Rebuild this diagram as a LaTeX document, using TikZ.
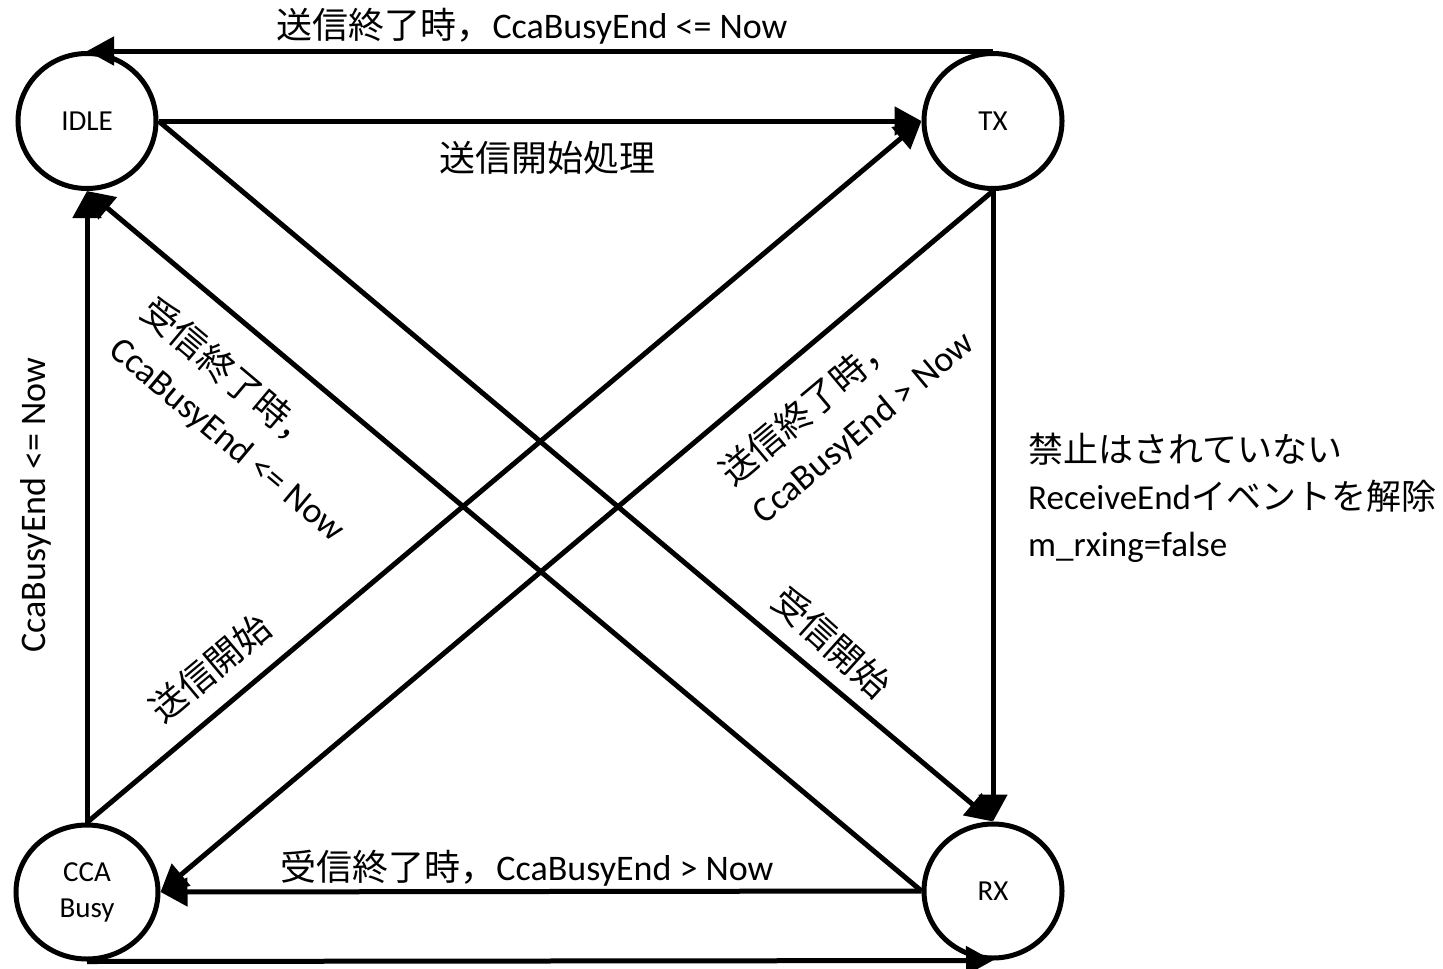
\documentclass[tikz,border=0pt]{standalone}
\usepackage{fontspec}
\setmainfont{Carlito}
\newfontfamily\jpfont{Noto Sans CJK JP}
\usetikzlibrary{arrows.meta,shapes.geometric}
\newcommand{\jp}[1]{{\jpfont #1}}
\begin{document}
\begin{tikzpicture}[x=1pt,y=-1pt,
  state/.style={draw, ellipse, line width=5pt, inner sep=0pt, font=\fontsize{29}{36}\selectfont},
  arr/.style={line width=5pt, -{Triangle[length=27pt,width=28pt]}},
  lbl/.style={inner sep=0pt, font=\fontsize{36}{49}\selectfont}]
\useasboundingbox (0,0) rectangle (1443,969);
\node[state, minimum width=138pt, minimum height=135pt] (idle) at (87,121) {IDLE};
\node[state, minimum width=138pt, minimum height=135pt] (tx) at (993,121) {TX};
\node[state, minimum width=142pt, minimum height=134pt, align=center] (cca) at (87,892) {CCA\\Busy};
\node[state, minimum width=138pt, minimum height=134pt] (rx) at (993,891) {RX};

\draw[arr] (tx.north) -- (idle.north |- tx.north);
\draw[arr] (idle.east) -- (tx.west);
\draw[arr] (idle.east) -- (rx.north);
\draw[arr] (tx.south) -- (rx.north);
\draw[arr] (tx.south) -- (cca.east);
\draw[arr] (cca.north) -- (tx.west);
\draw[arr] (rx.west) -- (idle.south);
\draw[arr] (cca.north) -- (idle.south);
\draw[arr] (rx.west) -- (cca.east);
\draw[arr] (cca.south) -- (rx.south);

\node[lbl] (l1) at (532,26) {\jp{送信終了時，}CcaBusyEnd <= Now};
\node[lbl] (l2) at (547,158) {\jp{送信開始処理}};
\node[lbl] (l3) at (527,868) {\jp{受信終了時，}CcaBusyEnd > Now};
\node[lbl, rotate=90] (l4) at (36,505) {CcaBusyEnd <= Now};
\node[lbl, align=left, anchor=west, font=\fontsize{35}{47}\selectfont] (l5) at (1028,498) {\jp{禁止はされていない}\\ReceiveEnd\jp{イベントを解除}\\m\_rxing=false};
\node[lbl, rotate=-42] (l6) at (832,642) {\jp{受信開始}};
\node[lbl, rotate=40] (l7) at (210,668) {\jp{送信開始}};
\node[lbl, rotate=-40, align=left] (l8) at (244,420) {\jp{受信終了時，}\\CcaBusyEnd <= Now};
\node[lbl, rotate=40, align=left] (l9) at (847,408) {\jp{送信終了時，}\\CcaBusyEnd > Now};
\end{tikzpicture}
\end{document}
